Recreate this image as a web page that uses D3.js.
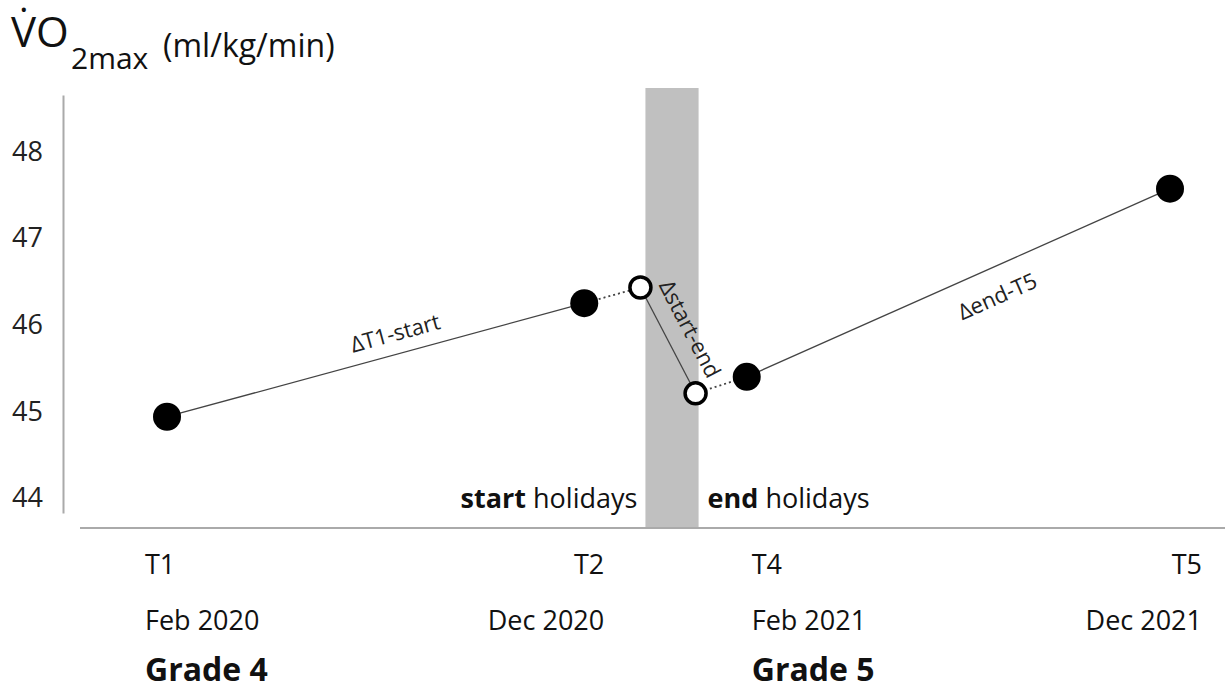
<!DOCTYPE html>
<html>
<head>
<meta charset="utf-8">
<script src="https://cdn.jsdelivr.net/npm/d3@7"></script>
<style>
  body { margin: 0; background: #fff; }
  svg { font-family: "Open Sans", "Noto Sans", sans-serif; }
</style>
</head>
<body>
<svg id="chart" width="1225" height="690"></svg>
<script>
// measurement points
var periods = ["T1", "T2", "T4", "T5"];
var dates = ["Feb 2020", "Dec 2020", "Feb 2021", "Dec 2021"];
var measuredVO2 = [44.94, 46.25, 45.40, 47.57];
var measuredPos = [0, 41.6, 57.8, 100];
var grades = ["Grade 4", "Grade 5"];
// estimated values at start / end of holidays
var holidayVO2 = [46.43, 45.21];
var holidayPos = [47.2, 52.7];
var holidayBand = [47.7, 53.0];
var yTicks = [44, 45, 46, 47, 48];
var deltaLabels = ["\u0394T1-start", "\u0394start-end", "\u0394end-T5"];

var svg = d3.select("#chart");
var ink = "#111";

// scales
var x = d3.scaleLinear().domain([0, 100]).range([167, 1170]);
var y = d3.scaleLinear().domain([43.83, 48.65]).range([513, 95]);
var baseY = 528;

// holiday band
svg.append("rect")
  .attr("x", x(holidayBand[0]))
  .attr("y", 88)
  .attr("width", x(holidayBand[1]) - x(holidayBand[0]))
  .attr("height", baseY - 88)
  .attr("fill", "#c0c0c0");

// y axis
var yAxis = svg.append("g")
  .attr("transform", "translate(63,0)")
  .call(d3.axisLeft(y).tickValues(yTicks).tickSize(0).tickPadding(20).tickFormat(d3.format("d")));
yAxis.select(".domain").attr("stroke", "#aaa").attr("stroke-width", 2);
yAxis.selectAll("text").attr("font-size", 27).attr("fill", "#222")
  .attr("font-family", "'Open Sans', sans-serif");

// x baseline
svg.append("line")
  .attr("x1", 80).attr("x2", 1225)
  .attr("y1", baseY).attr("y2", baseY)
  .attr("stroke", "#aaa").attr("stroke-width", 2);

// title
svg.append("text").attr("x", 11).attr("y", 47).attr("font-size", 42).attr("fill", ink).text("V\u0307O");
svg.append("text").attr("x", 71).attr("y", 69).attr("font-size", 30).attr("fill", ink).text("2max");
svg.append("text").attr("x", 163).attr("y", 57).attr("font-size", 32).attr("fill", ink).text("(ml/kg/min)");

// build the path points: T1, T2, start, end, T4, T5
var pts = [
  {p: measuredPos[0], v: measuredVO2[0]},
  {p: measuredPos[1], v: measuredVO2[1]},
  {p: holidayPos[0], v: holidayVO2[0]},
  {p: holidayPos[1], v: holidayVO2[1]},
  {p: measuredPos[2], v: measuredVO2[2]},
  {p: measuredPos[3], v: measuredVO2[3]}
];
var segs = [
  {a: 0, b: 1, dash: null, label: deltaLabels[0], t: 0.56, dy: -13},
  {a: 1, b: 2, dash: "2,3"},
  {a: 2, b: 3, dash: null, label: deltaLabels[1], t: 0.5, dy: -17},
  {a: 3, b: 4, dash: "2,3"},
  {a: 4, b: 5, dash: null, label: deltaLabels[2], t: 0.565, dy: 36}
];

segs.forEach(function(s) {
  var p1 = pts[s.a], p2 = pts[s.b];
  var x1 = x(p1.p), y1 = y(p1.v), x2 = x(p2.p), y2 = y(p2.v);
  svg.append("line")
    .attr("x1", x1).attr("y1", y1).attr("x2", x2).attr("y2", y2)
    .attr("stroke", "#444")
    .attr("stroke-width", s.dash ? 1.8 : 1.3)
    .attr("stroke-dasharray", s.dash);
  if (s.label) {
    var ang = Math.atan2(y2 - y1, x2 - x1) * 180 / Math.PI;
    var cx = x1 + (x2 - x1) * s.t, cy = y1 + (y2 - y1) * s.t;
    svg.append("text")
      .attr("transform", "translate(" + cx + "," + cy + ") rotate(" + ang + ")")
      .attr("dy", s.dy)
      .attr("text-anchor", "middle")
      .attr("font-size", 22)
      .attr("fill", "#222")
      .text(s.label);
  }
});

// measured dots
svg.selectAll("circle.measured")
  .data(measuredVO2)
  .enter().append("circle")
  .attr("class", "measured")
  .attr("cx", function(d, i) { return x(measuredPos[i]); })
  .attr("cy", function(d) { return y(d); })
  .attr("r", 14)
  .attr("fill", "#000");

// estimated holiday dots
svg.selectAll("circle.holiday")
  .data(holidayVO2)
  .enter().append("circle")
  .attr("class", "holiday")
  .attr("cx", function(d, i) { return x(holidayPos[i]); })
  .attr("cy", function(d) { return y(d); })
  .attr("r", 10.5)
  .attr("fill", "#fff")
  .attr("stroke", "#000")
  .attr("stroke-width", 3.5);

// holiday labels
var hs = svg.append("text")
  .attr("x", x(holidayBand[0]) - 8).attr("y", 508)
  .attr("text-anchor", "end").attr("font-size", 27).attr("fill", ink);
hs.append("tspan").attr("font-weight", "bold").text("start");
hs.append("tspan").text(" holidays");
var he = svg.append("text")
  .attr("x", x(holidayBand[1]) + 9).attr("y", 508)
  .attr("text-anchor", "start").attr("font-size", 27).attr("fill", ink);
he.append("tspan").attr("font-weight", "bold").text("end");
he.append("tspan").text(" holidays");

// bottom labels
var anchors = ["start", "end", "start", "end"];
var shift = [-22, 20, 5, 32];
periods.forEach(function(p, i) {
  var lx = x(measuredPos[i]) + shift[i];
  svg.append("text")
    .attr("x", lx).attr("y", 574)
    .attr("text-anchor", anchors[i]).attr("font-size", 27).attr("fill", ink)
    .text(p);
  svg.append("text")
    .attr("x", lx).attr("y", 630)
    .attr("text-anchor", anchors[i]).attr("font-size", 27).attr("fill", ink)
    .text(dates[i]);
});
grades.forEach(function(g, i) {
  var k = i * 2;
  svg.append("text")
    .attr("x", x(measuredPos[k]) + shift[k]).attr("y", 681)
    .attr("font-size", 32).attr("font-weight", "bold").attr("fill", ink)
    .text(g);
});
</script>
</body>
</html>
